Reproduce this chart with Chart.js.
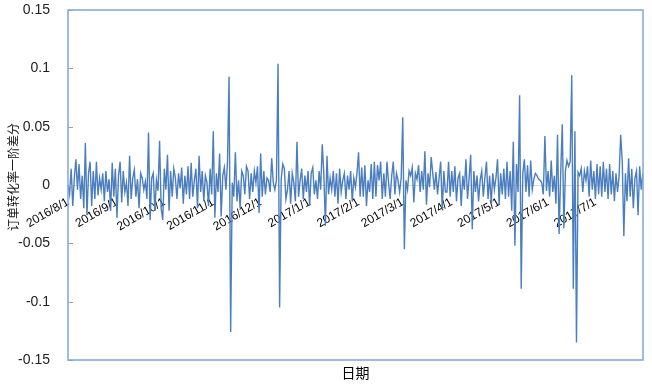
<!DOCTYPE html>
<html>
<head>
<meta charset="utf-8">
<script src="https://cdn.jsdelivr.net/npm/chart.js@4.4.1/dist/chart.umd.min.js"></script>
<style>
  html, body { margin: 0; padding: 0; background: #fff; }
  #wrap { width: 652px; height: 384px; }
</style>
</head>
<body>
<div id="wrap"><canvas id="grafico"></canvas></div>
<script>
// primeiro dia da serie (ano, mes, dia) -> 2016/8/1 .. 2017/7/31
const inicio = [2016, 8, 1]
const diferenca = [
  // ago 2016
  0.000, -0.008, 0.014, -0.018, 0.006, 0.022, -0.004, 0.018, -0.012, 0.008, -0.020, 0.036, -0.026, 0.010, 0.020, -0.018,
  0.012, -0.012, 0.020, -0.009, 0.006, -0.004, 0.010, -0.014, 0.012, -0.006, 0.005, -0.022, 0.019, -0.010, 0.014,
  // set
  -0.028, 0.008, 0.020, -0.015, 0.012, -0.006, 0.002, -0.018, 0.025, -0.012, 0.006, 0.013, -0.010, 0.005, -0.020,
  0.010, 0.006, -0.004, 0.003, -0.012, 0.045, -0.030, 0.006, 0.010, -0.022, 0.004, -0.005, 0.038, -0.020, -0.030,
  // out
  0.014, -0.004, 0.026, -0.022, 0.012, -0.010, 0.014, 0.006, -0.012, 0.010, -0.003, 0.015, -0.016, 0.008, -0.008, 0.016,
  -0.012, 0.019, -0.010, 0.004, 0.014, -0.020, 0.025, -0.006, 0.012, -0.014, 0.008, 0.002, -0.018, 0.014, -0.008,
  // nov
  0.046, -0.028, 0.010, -0.006, 0.027, -0.027, 0.008, 0.015, -0.004, 0.020, 0.093, -0.126, 0.002, -0.010, 0.028,
  -0.014, 0.004, -0.020, 0.012, 0.008, -0.008, 0.016, 0.012, -0.012, 0.010, -0.006, 0.012, 0.002, 0.016, -0.024,
  // dez
  0.027, -0.010, 0.012, -0.008, 0.006, 0.004, -0.006, 0.023, 0.002, -0.004, 0.004, 0.104, -0.105, 0.005, 0.018, 0.014,
  -0.012, -0.004, 0.012, -0.016, 0.010, 0.002, -0.014, 0.037, -0.010, 0.004, 0.014, -0.012, 0.008, -0.006, 0.012,
  // jan 2017
  -0.018, 0.010, 0.015, -0.008, 0.004, -0.012, 0.012, -0.004, 0.035, 0.010, -0.035, 0.025, -0.008, 0.006, -0.004, 0.012,
  -0.010, 0.010, -0.016, 0.014, -0.006, 0.004, 0.010, -0.012, 0.008, -0.004, 0.012, -0.014, 0.006, -0.002, 0.010,
  // fev
  0.028, -0.010, 0.015, -0.010, 0.017, -0.018, 0.004, -0.006, 0.018, -0.012, 0.020, -0.010, 0.017, 0.004,
  0.020, -0.012, 0.010, -0.010, 0.020, 0.002, -0.012, 0.008, 0.020, -0.008, 0.010, 0.004, -0.006, 0.006,
  // mar
  0.058, -0.055, 0.004, -0.004, 0.012, 0.008, 0.015, -0.015, 0.010, 0.005, 0.017, -0.006, 0.012, -0.004, 0.029, -0.017,
  0.010, -0.002, 0.024, 0.010, -0.004, 0.011, -0.008, 0.006, 0.020, -0.021, 0.012, -0.006, -0.006, 0.020, -0.010,
  // abr
  0.012, -0.006, 0.016, -0.014, 0.006, 0.010, -0.018, 0.008, -0.004, 0.022, -0.012, 0.006, 0.026, -0.038, 0.012,
  -0.006, 0.008, -0.014, 0.004, 0.012, -0.010, 0.006, 0.020, -0.012, 0.008, -0.016, 0.010, -0.004, 0.006, 0.022,
  // mai
  -0.017, 0.010, -0.008, 0.014, -0.012, 0.020, -0.010, 0.012, -0.022, 0.037, -0.052, 0.018, -0.006, 0.077, -0.089, 0.010,
  0.022, -0.006, 0.017, -0.010, 0.021, -0.004, 0.005, 0.010, 0.008, 0.005, 0.004, 0.002, -0.008, 0.042, -0.005,
  // jun
  0.012, -0.010, 0.021, -0.006, 0.008, -0.016, 0.043, -0.042, 0.010, 0.052, -0.037, 0.012, 0.021, 0.016, 0.020,
  0.094, -0.089, 0.046, -0.135, 0.011, 0.008, 0.014, -0.006, 0.012, 0.004, 0.016, -0.010, 0.021, -0.004, 0.012,
  // jul
  -0.012, 0.018, -0.008, 0.016, -0.010, 0.020, -0.006, 0.014, -0.012, 0.018, -0.008, 0.012, -0.014, 0.010, -0.006, 0.008,
  0.043, 0.020, -0.044, 0.010, -0.014, 0.023, -0.010, 0.014, -0.020, 0.006, 0.012, -0.026, 0.016, -0.004, 0.010
]
const limitesY = [-0.15, 0.15]
const passoY = 0.05
const tituloX = '日期'
const tituloY = '订单转化率一阶差分'

// monta as datas tipo 2016/8/1
const datas = []
for (let i = 0; i < diferenca.length; i++) {
  const d = new Date(inicio[0], inicio[1] - 1, inicio[2] + i)
  datas.push(`${d.getFullYear()}/${d.getMonth() + 1}/${d.getDate()}`)
}

const corLinha = '#4A7EBF'
const corMoldura = '#7FA7D8'

// moldura da area do grafico, tracinhos do eixo y e os titulos dos eixos
const moldura = {
  id: 'moldura',
  afterDraw(chart) {
    const { ctx, chartArea: a, scales } = chart
    ctx.save()
    ctx.strokeStyle = corMoldura
    ctx.lineWidth = 1.5
    ctx.strokeRect(Math.round(a.left), Math.round(a.top), Math.round(a.right - a.left), Math.round(a.bottom - a.top))
    ctx.beginPath()
    for (const t of scales.y.ticks) {
      const y = Math.round(scales.y.getPixelForValue(t.value)) + 0.5
      ctx.moveTo(a.left, y)
      ctx.lineTo(a.left + 5, y)
    }
    ctx.lineWidth = 1
    ctx.stroke()

    ctx.fillStyle = '#000'
    ctx.font = "14px 'Noto Sans CJK SC'"
    ctx.textAlign = 'center'
    ctx.textBaseline = 'middle'
    ctx.fillText(tituloX, (a.left + a.right) / 2, a.bottom + 13)

    // titulo do eixo y, girado
    ctx.translate(13, 177)
    ctx.rotate(-Math.PI / 2)
    ctx.fillStyle = '#111'
    ctx.font = "12px 'Noto Sans CJK SC'"
    ctx.fillText(tituloY, 0, 0)
    ctx.restore()
  }
}

const g = document.getElementById('grafico')

new Chart(g, {
  type: 'line',
  data: {
    labels: datas,
    datasets: [{
      data: diferenca,
      borderColor: corLinha,
      borderWidth: 1.4,
      pointRadius: 0,
      tension: 0,
      fill: false
    }]
  },
  options: {
    responsive: true,
    maintainAspectRatio: false,
    animation: false,
    layout: { padding: { top: 10, right: 4, left: 0, bottom: 24 } },
    plugins: {
      legend: { display: false },
      tooltip: { enabled: false }
    },
    scales: {
      x: {
        position: { y: 0 },
        grid: { display: false },
        border: { display: true, color: '#D9D9D9', width: 1 },
        ticks: {
          autoSkip: false,
          maxRotation: 30,
          minRotation: 30,
          padding: 2,
          color: '#000',
          font: { family: "'Liberation Sans Narrow', 'Liberation Sans'", size: 12 },
          callback: function (v, i) {
            const s = datas[i]
            return s.split('/')[2] === '1' ? s : ''
          }
        }
      },
      y: {
        min: limitesY[0],
        max: limitesY[1],
        grid: { display: false },
        border: { display: false },
        ticks: {
          stepSize: passoY,
          padding: 10,
          color: '#222',
          font: { family: "'Liberation Sans Narrow', 'Liberation Sans'", size: 14 },
          callback: (v) => {
            const n = parseFloat(Number(v).toFixed(2))
            return n === 0 ? '0' : String(n)
          }
        },
        afterFit: (s) => {
          s.width = 68
          s.paddingTop = 0
          s.paddingBottom = 0
        }
      }
    }
  },
  plugins: [moldura]
})
</script>
</body>
</html>
